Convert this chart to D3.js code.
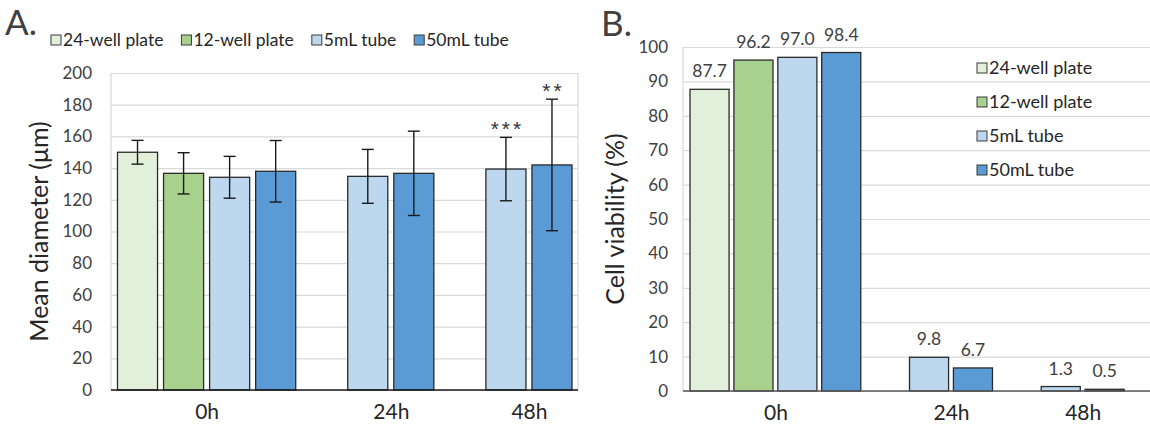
<!DOCTYPE html>
<html>
<head>
<meta charset="utf-8">
<script src="https://cdn.jsdelivr.net/npm/d3@7"></script>
<style>
    body { margin: 0; background: #fff; }
    svg { font-family: Lato, "Open Sans", sans-serif; }
</style>
</head>
<body>
<div id="chart"></div>
<script>
const categories = ["0h", "24h", "48h"];
const seriesNames = ["24-well plate", "12-well plate", "5mL tube", "50mL tube"];

// mean diameter (µm) per time point, per vessel
const diameterMean = [
    [150, 136.7, 134.2, 138],
    [null, null, 134.8, 136.7],
    [null, null, 139.4, 142]
];
const diameterErr = [
    [7.5, 13, 13.2, 19.4],
    [null, null, 17, 26.6],
    [null, null, 20, 41.5]
];
const significance = [
    [null, null, null, null],
    [null, null, null, null],
    [null, null, "***", "**"]
];

// cell viability (%)
const viability = [
    [87.7, 96.2, 97.0, 98.4],
    [null, null, 9.8, 6.7],
    [null, null, 1.3, 0.5]
];
const viabilityLabels = [
    ["87.7", "96.2", "97.0", "98.4"],
    [null, null, "9.8", "6.7"],
    [null, null, "1.3", "0.5"]
];

const diameterTicks = [0, 20, 40, 60, 80, 100, 120, 140, 160, 180, 200];
const viabilityTicks = [0, 10, 20, 30, 40, 50, 60, 70, 80, 90, 100];

const colors = ["#E2EFDA", "#A9D18E", "#BDD7EE", "#5B9BD5"];

const svg = d3.select("#chart")
    .append("svg")
    .attr("width", 1150)
    .attr("height", 425);

// one slot per drawn bar, an empty slot between time points
function buildSlots(values) {
    const slots = [];
    values.forEach((row, i) => {
        if (i > 0) slots.push({ key: "gap" + i, gap: true });
        row.forEach((v, j) => {
            if (v != null) slots.push({ key: i + "-" + j, cat: i, series: j, value: v });
        });
    });
    return slots;
}

function drawPanel(cfg) {
    const slots = buildSlots(cfg.values);
    const bars = slots.filter(s => !s.gap);

    const x = d3.scaleBand()
        .domain(slots.map(s => s.key))
        .range(cfg.barRange)
        .paddingInner(cfg.padInner)
        .paddingOuter(cfg.padOuter);

    const y = d3.scaleLinear()
        .domain([0, d3.max(cfg.ticks)])
        .range([cfg.bottom, cfg.top]);

    const g = svg.append("g");

    // gridlines
    g.append("g")
        .attr("transform", `translate(${cfg.left}, 0)`)
        .call(d3.axisLeft(y).tickValues(cfg.ticks).tickSize(-(cfg.right - cfg.left)).tickFormat(""))
        .call(a => a.select(".domain").remove())
        .call(a => a.selectAll("line").attr("stroke", "#d9d9d9").attr("stroke-width", 1.2));

    // plot border (left / right)
    g.append("line")
        .attr("x1", cfg.left).attr("x2", cfg.left)
        .attr("y1", y(d3.max(cfg.ticks))).attr("y2", cfg.bottom)
        .attr("stroke", "#d9d9d9").attr("stroke-width", 1.2);
    if (cfg.rightBorder) {
        g.append("line")
            .attr("x1", cfg.right).attr("x2", cfg.right)
            .attr("y1", y(d3.max(cfg.ticks))).attr("y2", cfg.bottom)
            .attr("stroke", "#d9d9d9").attr("stroke-width", 1.2);
    }

    // y tick labels
    g.append("g")
        .attr("transform", `translate(${cfg.left}, 0)`)
        .call(d3.axisLeft(y).tickValues(cfg.ticks).tickSize(0).tickPadding(cfg.tickPad))
        .call(a => a.select(".domain").remove())
        .call(a => a.selectAll("text").attr("font-size", 17).attr("fill", "#404040").attr("font-family", "Lato"));

    // bars
    g.selectAll(".bar")
        .data(bars)
        .enter()
        .append("rect")
        .attr("class", "bar")
        .attr("x", d => x(d.key))
        .attr("y", d => y(d.value))
        .attr("width", x.bandwidth())
        .attr("height", d => cfg.bottom - y(d.value))
        .attr("fill", d => colors[d.series])
        .attr("stroke", "#2a2a2a")
        .attr("stroke-width", 1.3);

    // x axis
    const centers = categories.map((c, i) => d3.mean(bars.filter(b => b.cat === i), b => x(b.key) + x.bandwidth() / 2));
    const xCat = d3.scaleOrdinal(categories, centers);
    g.append("g")
        .attr("transform", `translate(0, ${cfg.bottom})`)
        .call(d3.axisBottom(xCat).tickSize(0).tickPadding(14))
        .call(a => a.select(".domain").remove())
        .call(a => a.selectAll("text").attr("font-size", 21).attr("fill", "#262626").attr("font-family", "Lato"));
    g.append("line")
        .attr("x1", cfg.left).attr("x2", cfg.right)
        .attr("y1", cfg.bottom).attr("y2", cfg.bottom)
        .attr("stroke", cfg.axisColor).attr("stroke-width", 1.5);

    // y title
    g.append("text")
        .attr("transform", `translate(${cfg.titleX}, ${(cfg.top + cfg.bottom) / 2}) rotate(-90)`)
        .attr("text-anchor", "middle")
        .attr("font-size", 25)
        .attr("fill", "#262626")
        .text(cfg.yTitle);

    // panel letter
    g.append("text")
        .attr("x", cfg.letterX).attr("y", cfg.letterY)
        .attr("font-size", 35)
        .attr("fill", "#404040")
        .text(cfg.letter);

    return { g, x, y, bars };
}

// ---- panel A ----
const A = drawPanel({
    values: diameterMean,
    ticks: diameterTicks,
    left: 111, right: 578, top: 73, bottom: 390,
    barRange: [114.5, 575], padInner: 0.13, padOuter: 0.065,
    tickPad: 19, axisColor: "#1a1a1a", rightBorder: true,
    titleX: 48, yTitle: "Mean diameter (μm)",
    letter: "A.", letterX: 5, letterY: 35
});

const errBars = A.bars.map(b => ({ ...b, err: diameterErr[b.cat][b.series], sig: significance[b.cat][b.series] }));
const cap = 6;
errBars.forEach(d => {
    const cx = A.x(d.key) + A.x.bandwidth() / 2;
    const hi = A.y(d.value + d.err), lo = A.y(d.value - d.err);
    A.g.append("line").attr("x1", cx).attr("x2", cx).attr("y1", hi).attr("y2", lo)
        .attr("stroke", "#1a1a1a").attr("stroke-width", 1.4);
    [hi, lo].forEach(yy => A.g.append("line")
        .attr("x1", cx - cap).attr("x2", cx + cap).attr("y1", yy).attr("y2", yy)
        .attr("stroke", "#1a1a1a").attr("stroke-width", 1.4));
    if (d.sig) {
        A.g.append("text")
            .attr("x", cx + 1.5).attr("y", hi - 1)
            .attr("text-anchor", "middle")
            .attr("font-family", "Liberation Sans")
            .attr("font-size", 21)
            .attr("letter-spacing", 3)
            .attr("fill", "#333")
            .text(d.sig);
    }
});

// legend A (horizontal)
const legA = svg.append("g").attr("transform", "translate(51, 40)");
let lx = 0;
seriesNames.forEach((name, i) => {
    const item = legA.append("g").attr("transform", `translate(${lx}, 0)`);
    item.append("rect").attr("x", 0).attr("y", -5).attr("width", 10).attr("height", 10)
        .attr("fill", colors[i]).attr("stroke", "#3a3a3a").attr("stroke-width", 1);
    const t = item.append("text").attr("x", 12).attr("y", 6)
        .attr("font-size", 17.5).attr("fill", "#262626").text(name);
    lx += 12 + t.node().getComputedTextLength() + 18;
});

// ---- panel B ----
const B = drawPanel({
    values: viability,
    ticks: viabilityTicks,
    left: 683, right: 1150, top: 47, bottom: 391,
    barRange: [687.6, 1126.6], padInner: 0.11, padOuter: 0.055,
    tickPad: 15, axisColor: "#595959", rightBorder: false,
    titleX: 624, yTitle: "Cell viability (%)",
    letter: "B.", letterX: 601, letterY: 36
});

B.g.selectAll(".vlabel")
    .data(B.bars)
    .enter()
    .append("text")
    .attr("class", "vlabel")
    .attr("x", d => B.x(d.key) + B.x.bandwidth() / 2)
    .attr("y", d => B.y(d.value) - 12)
    .attr("text-anchor", "middle")
    .attr("font-size", 17.5)
    .attr("fill", "#404040")
    .text(d => viabilityLabels[d.cat][d.series]);

// legend B (vertical)
const legB = svg.append("g").attr("transform", "translate(977, 68)");
seriesNames.forEach((name, i) => {
    const item = legB.append("g").attr("transform", `translate(0, ${i * 34})`);
    item.append("rect").attr("x", 0).attr("y", -5).attr("width", 10).attr("height", 10)
        .attr("fill", colors[i]).attr("stroke", "#3a3a3a").attr("stroke-width", 1);
    item.append("text").attr("x", 12).attr("y", 6)
        .attr("font-size", 18).attr("fill", "#262626").text(name);
});
</script>
</body>
</html>
